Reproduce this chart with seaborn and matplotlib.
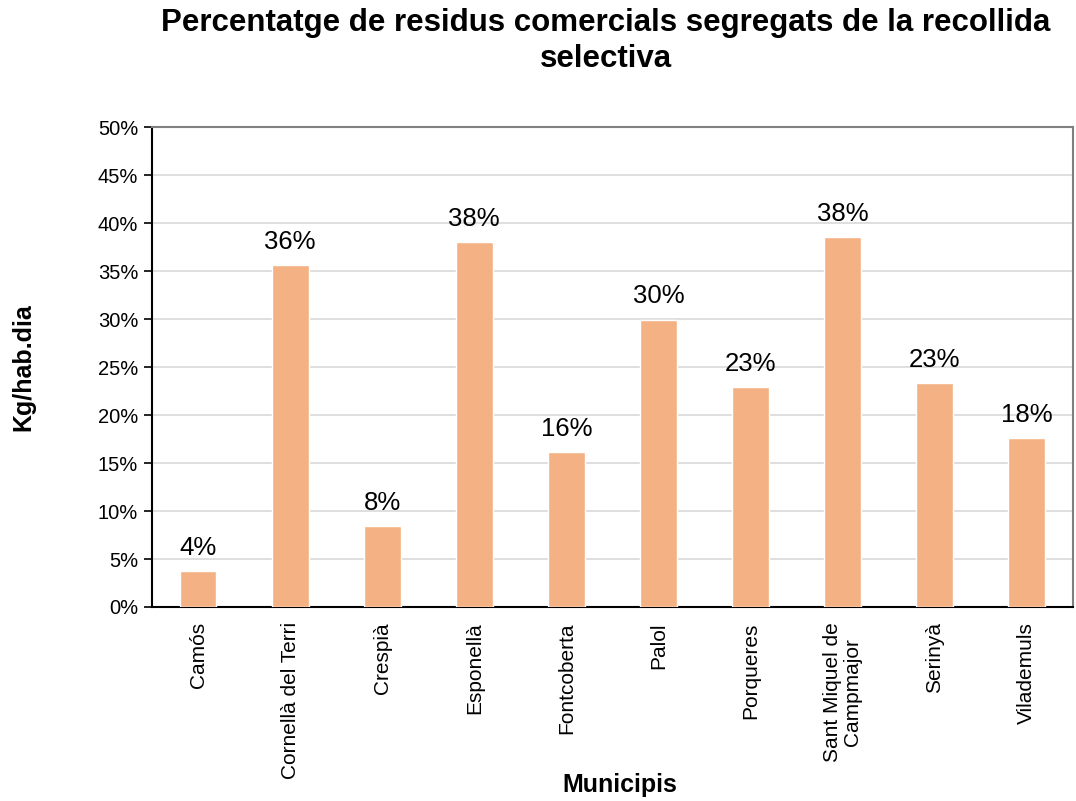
import numpy as np
import pandas as pd
import matplotlib
matplotlib.use('Agg')
import matplotlib.pyplot as plt
import seaborn as sns

municipis = ['Camós', 'Cornellà del Terri', 'Crespià', 'Esponellà', 'Fontcoberta',
             'Palol', 'Porqueres', 'Sant Miquel de\nCampmajor', 'Serinyà', 'Vilademuls']
percentatge = [3.7, 35.6, 8.4, 38.0, 16.1, 29.9, 22.9, 38.5, 23.3, 17.6]
y_ticks = list(range(0, 55, 5))

sns.set_style('white')
plt.rcParams['font.family'] = ['Liberation Sans', 'DejaVu Sans']
plt.rcParams['text.color'] = 'black'
plt.rcParams['axes.labelcolor'] = 'black'
plt.rcParams['xtick.color'] = 'black'
plt.rcParams['ytick.color'] = 'black'

df = pd.DataFrame({'Municipi': municipis, 'Percentatge': percentatge})

fig = plt.figure(figsize=(10.76, 8.01), dpi=100)
ax = fig.add_axes([0.1413, 0.2422, 0.8557, 0.5992])

sns.barplot(data=df, x='Municipi', y='Percentatge', color='#F4B183',
            saturation=1, width=0.4, ax=ax, zorder=3)

# value labels
for i, v in enumerate(percentatge):
    ax.text(i, v + 1.2, f'{v:.0f}%', ha='center', va='bottom', fontsize=18.5)

ax.set_ylim(0, 50)
ax.set_xlim(-0.5, len(municipis) - 0.5)
ax.set_yticks(y_ticks)
ax.set_yticklabels([f'{t}%' for t in y_ticks], fontsize=14.5)
ax.yaxis.grid(True, color='#D9D9D9', linewidth=1.2, zorder=0)

# category labels centered, tick marks between categories
ax.set_xticks(range(len(municipis)))
ax.set_xticklabels(municipis, rotation=90, fontsize=15, va='top', linespacing=1.1)
for lab in ax.get_xticklabels():
    lab.set_multialignment('center')
ax.tick_params(axis='x', length=0, pad=11)
ax.set_xticks(np.arange(-0.5, len(municipis), 1), minor=True)
ax.tick_params(axis='x', which='minor', length=6, width=1.2, color='black', direction='out')
ax.tick_params(axis='y', length=6, width=1.2, color='black', direction='out', left=True, pad=4)

for side in ['left', 'bottom']:
    ax.spines[side].set_color('black')
    ax.spines[side].set_linewidth(1.5)
for side in ['top', 'right']:
    ax.spines[side].set_color('#808080')
    ax.spines[side].set_linewidth(1.5)

ax.set_xlabel('')
ax.set_ylabel('Kg/hab.dia', fontsize=18, fontweight='bold', labelpad=45)
fig.text(0.576, 1 - 785 / 801, 'Municipis', ha='center', va='center',
         fontsize=18, fontweight='bold')
fig.text(0.563, 0.99, 'Percentatge de residus comercials segregats de la recollida\nselectiva',
         ha='center', va='top', fontsize=22.5, fontweight='bold', linespacing=1.25)

fig.savefig('out.png', dpi=100)
